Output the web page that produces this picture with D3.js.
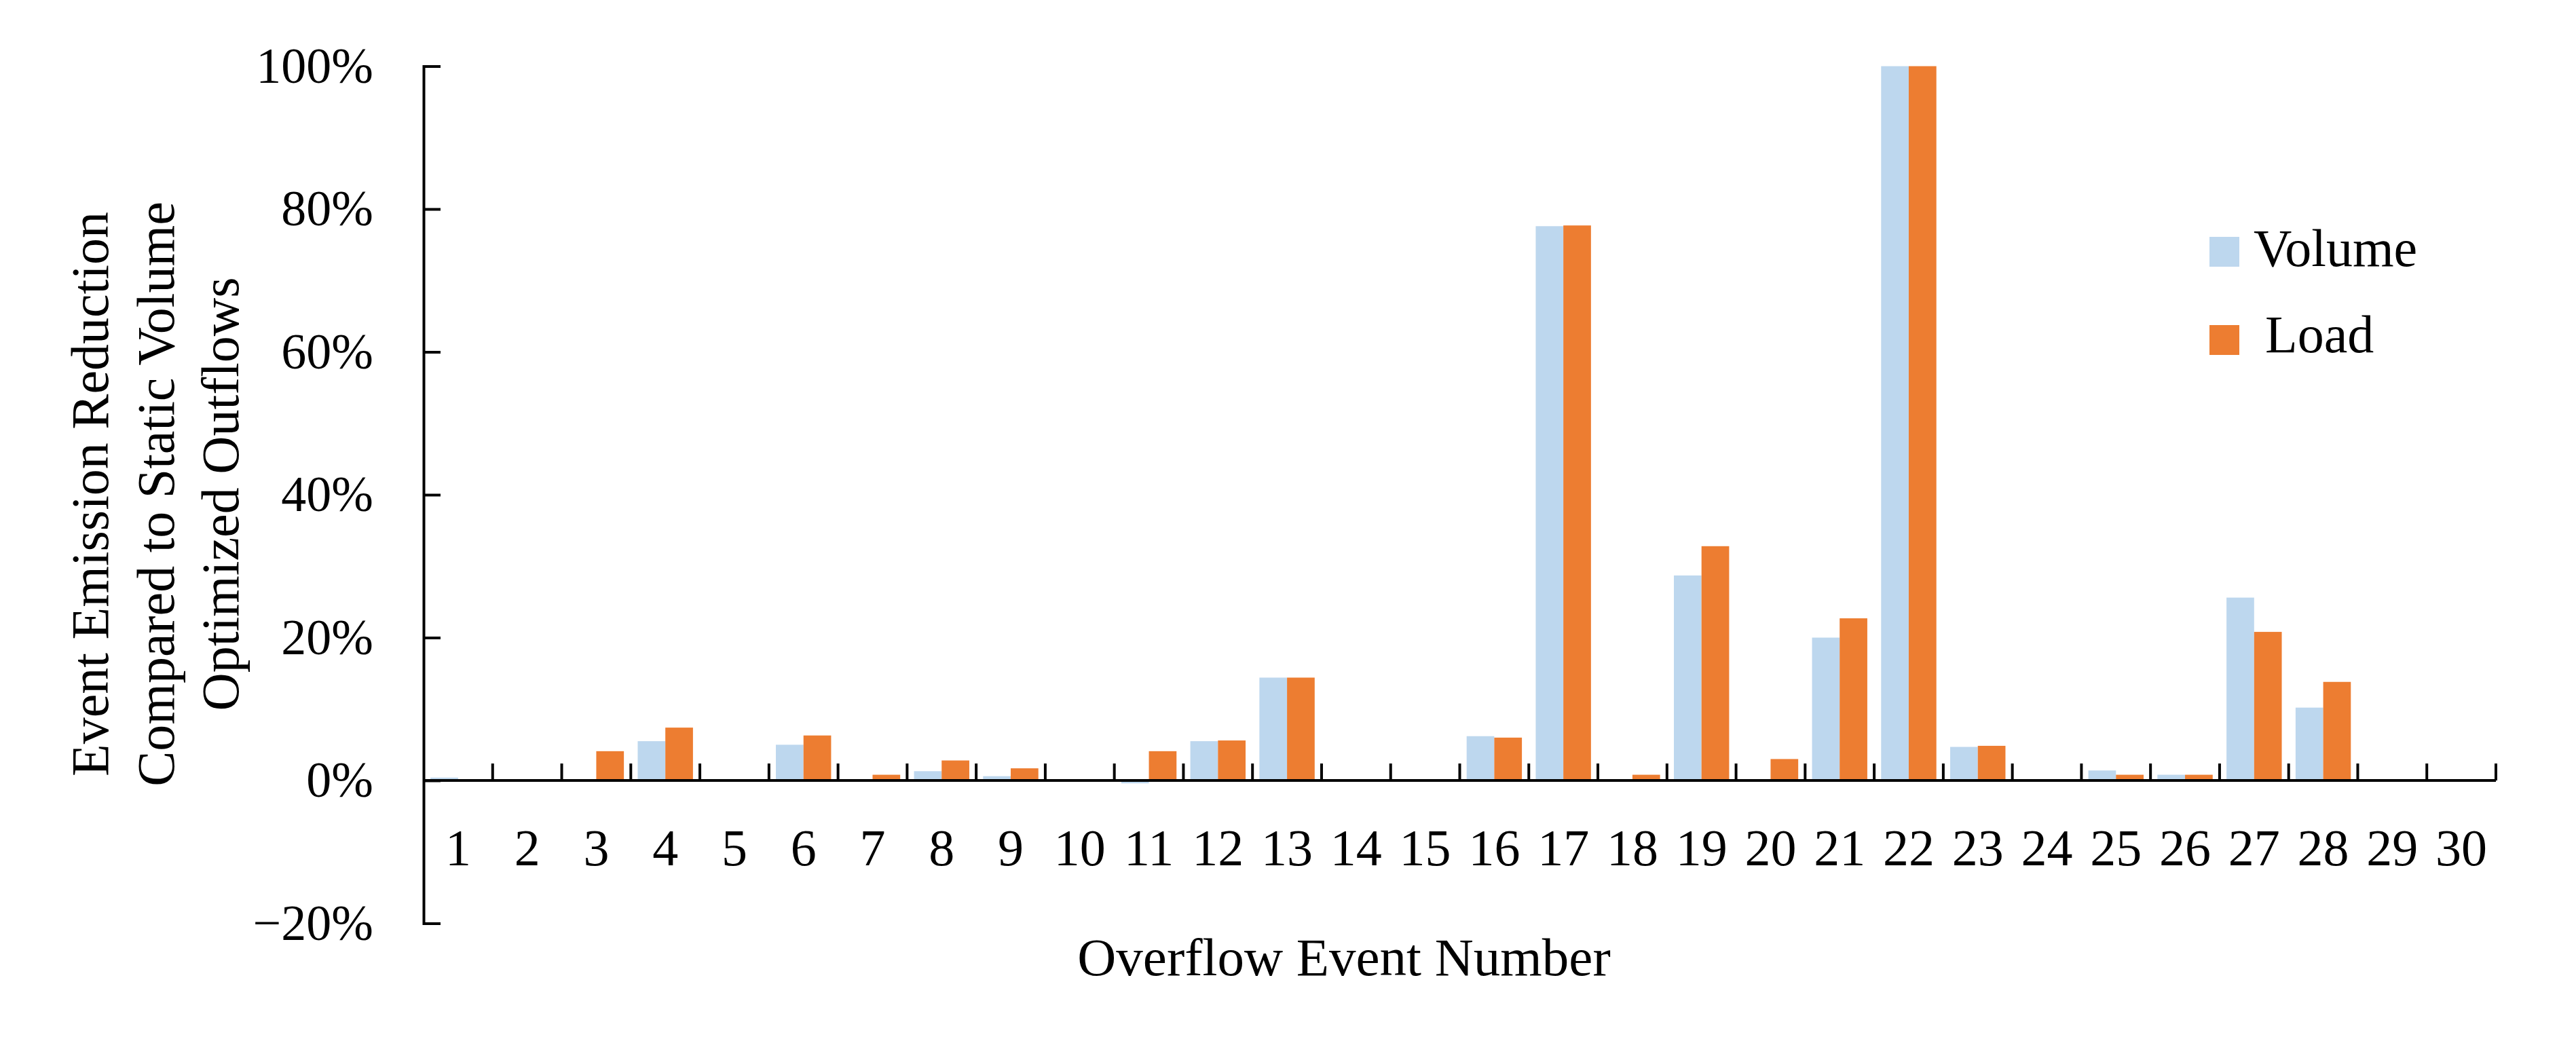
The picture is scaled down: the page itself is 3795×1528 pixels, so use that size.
<!DOCTYPE html>
<html>
<head>
<meta charset="utf-8">
<script src="https://cdn.jsdelivr.net/npm/d3@7"></script>
<style>
html, body { margin: 0; padding: 0; background: #ffffff; }
svg { display: block; }
text { font-family: 'Liberation Serif', 'Times New Roman', serif; fill: #000; }
</style>
</head>
<body>
<script>
// ---- data ----
const categories = ["1","2","3","4","5","6","7","8","9","10","11","12","13","14","15",
                    "16","17","18","19","20","21","22","23","24","25","26","27","28","29","30"];
const seriesNames = ["Volume", "Load"];
const volumeValues = [0.4, 0, 0, 5.5, 0.2, 5.0, 0, 1.3, 0.6, 0, -0.4, 5.5, 14.4, 0, 0,
                      6.2, 77.6, 0, 28.7, 0, 20.0, 100, 4.7, 0, 1.4, 0.8, 25.6, 10.2, 0, 0];
const loadValues   = [0, 0, 4.1, 7.4, 0, 6.3, 0.8, 2.8, 1.7, 0, 4.1, 5.6, 14.4, 0, 0,
                      6.0, 77.7, 0.8, 32.8, 3.0, 22.7, 100, 4.85, 0, 0.8, 0.8, 20.8, 13.8, 0, 0];
const yTicks = [-20, 0, 20, 40, 60, 80, 100];
const colors = ["#BDD7EE", "#ED7D31"];
const yTitleLines = ["Event Emission Reduction", "Compared to Static Volume", "Optimized Outflows"];
const xTitle = "Overflow Event Number";

const W = 3795, H = 1528;
const svg = d3.select("body").append("svg").attr("width", W).attr("height", H);

const x0 = d3.scaleBand().domain(categories).range([624, 3677]).padding(0);
const bw = x0.bandwidth();
const x1 = d3.scaleBand().domain(seriesNames).range([bw * 0.1, bw * 0.9]).padding(0);
const y = d3.scaleLinear().domain([-20, 100]).range([1360.5, 97.5]);

const rows = categories.map((c, i) => ({ c, vals: [volumeValues[i], loadValues[i]] }));

// bars
const g = svg.append("g");
rows.forEach(r => {
  r.vals.forEach((v, j) => {
    g.append("rect")
      .attr("x", x0(r.c) + x1(seriesNames[j]))
      .attr("width", x1.bandwidth())
      .attr("y", Math.min(y(v), y(0)))
      .attr("height", Math.abs(y(v) - y(0)))
      .attr("fill", colors[j]);
  });
});

// y axis (ticks inward)
const yAxis = svg.append("g").attr("transform", "translate(624,0)")
  .call(d3.axisRight(y).tickValues(yTicks).tickSize(25).tickSizeOuter(25).tickFormat(""));
yAxis.selectAll("path, line").attr("stroke", "#000").attr("stroke-width", 4);

const yLab = svg.append("g").attr("transform", "translate(624,0)")
  .call(d3.axisLeft(y).tickValues(yTicks).tickSize(0).tickPadding(74).tickFormat(d => d3.format("d")(d) + "%"));
yLab.select(".domain").remove();
yLab.selectAll("text").style("font-family", "'Liberation Serif', serif").attr("font-size", 74).attr("fill", "#000");

// x axis line at zero
svg.append("line").attr("x1", 624).attr("x2", 3677).attr("y1", y(0)).attr("y2", y(0))
  .attr("stroke", "#000").attr("stroke-width", 4);

// boundary ticks
const bounds = categories.map(c => x0(c) + bw);
svg.append("g").selectAll("line").data(bounds).join("line")
  .attr("x1", d => d).attr("x2", d => d)
  .attr("y1", y(0)).attr("y2", y(0) - 25)
  .attr("stroke", "#000").attr("stroke-width", 4);

// x labels
const xLab = svg.append("g").attr("transform", `translate(0,${1275})`)
  .call(d3.axisBottom(x0).tickSize(0).tickPadding(0));
xLab.select(".domain").remove();
xLab.selectAll("text").style("font-family", "'Liberation Serif', serif").attr("font-size", 76)
  .attr("fill", "#000").attr("dy", 0).attr("y", 0);

// x title
svg.append("text").attr("x", 1980).attr("y", 1437).attr("text-anchor", "middle")
  .attr("font-size", 79).text(xTitle);

// y title
const ybase = [159, 256, 351];
yTitleLines.forEach((t, i) => {
  svg.append("text")
    .attr("transform", `translate(${ybase[i]},728) rotate(-90)`)
    .attr("text-anchor", "middle").attr("font-size", 78).text(t);
});

// legend
const legend = [{ name: "Volume", y: 349, ty: 392, tx: 3320 }, { name: "Load", y: 479, ty: 519, tx: 3337 }];
legend.forEach((l, i) => {
  svg.append("rect").attr("x", 3255).attr("y", l.y).attr("width", 44).attr("height", 44).attr("fill", colors[i]);
  svg.append("text").attr("x", l.tx).attr("y", l.ty).attr("font-size", 78).text(l.name);
});
</script>
</body>
</html>
